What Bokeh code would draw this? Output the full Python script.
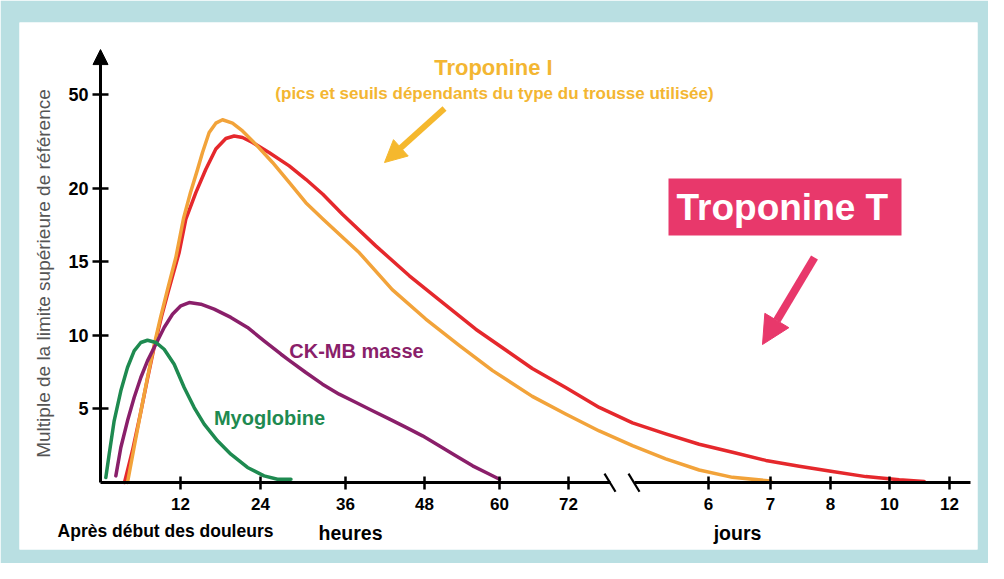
import numpy as np
from bokeh.plotting import figure
from bokeh.models import Range1d, FixedTicker, Label, Arrow, NormalHead, BoxAnnotation
from bokeh.embed import file_html
from bokeh.resources import INLINE

# ---------------- data (hours after onset of pain, multiple of upper reference limit)
MYO_H = [0.8, 1.3, 2.05, 3.05, 4.05, 5.05, 6.05, 7.05, 8.3, 9.55, 11.05, 12.55, 14.05,
         15.55, 17.55, 19.55, 22.05, 24.5, 26.4, 28.3]
MYO_V = [0.34, 1.92, 4.19, 6.23, 7.81, 8.94, 9.51, 9.66, 9.51, 9.05, 8.03, 6.45, 5.09,
         3.96, 2.83, 1.92, 1.02, 0.45, 0.22, 0.22]

CKMB_H = [2.3, 3.05, 4.05, 5.05, 6.05, 7.05, 8.3, 9.55, 10.8, 12.05, 13.3, 15.05, 17.05,
          19.55, 22.05, 24.5, 26.9, 28.05, 30.4, 32.75, 35.1, 37.6, 40.1, 42.7, 45.2,
          47.7, 50.35, 53.0, 55.7, 58.4, 60.0]
CKMB_V = [0.45, 2.38, 4.19, 5.77, 7.13, 8.26, 9.39, 10.53, 11.43, 12.0, 12.22, 12.11,
          11.77, 11.21, 10.53, 9.62, 8.71, 8.3, 7.47, 6.68, 6.0, 5.43, 4.87, 4.3, 3.74,
          3.17, 2.49, 1.81, 1.13, 0.56, 0.22]

TNI_H = [4.05, 4.95, 6.0, 7.05, 8.1, 9.0, 10.05, 11.3, 12.45, 13.5, 14.55, 15.3, 16.3,
         17.3, 18.3, 19.8, 21.3, 23.3, 25.7, 28.05, 30.4, 32.8, 38.1, 43.1, 48.2, 53.6,
         58.9, 65.7, 71.5, 87.8, 104.9, 122.0, 139.2, 153.3, 168.1]
TNI_V = [0.0, 2.17, 4.69, 7.13, 9.44, 11.2, 13.1, 15.28, 17.93, 19.69, 25.9, 31.4, 37.8,
         40.8, 41.9, 40.8, 38.3, 34.0, 28.2, 21.8, 19.0, 17.9, 15.6, 13.1, 11.1, 9.3,
         7.6, 5.85, 4.65, 3.5, 2.5, 1.6, 0.85, 0.35, 0.1]

TNT_H = [3.6, 4.8, 6.0, 7.05, 8.1, 9.15, 10.2, 11.8, 12.8, 14.3, 15.8, 17.3, 18.8, 20.05,
         21.3, 22.8, 25.2, 28.05, 30.4, 32.8, 35.6, 40.6, 45.7, 50.9, 56.2, 61.7, 65.7,
         71.5, 87.8, 104.9, 122.0, 139.2, 153.3, 166.2, 179.5, 193.6, 220.7, 247.8, 267.8]
TNT_V = [0.0, 2.17, 4.69, 7.06, 9.3, 11.27, 13.04, 15.62, 17.88, 19.69, 26.0, 32.5, 35.9,
         36.7, 36.2, 34.6, 31.4, 27.1, 22.8, 19.58, 18.2, 16.07, 14.04, 12.22, 10.41,
         8.83, 7.74, 6.45, 5.1, 4.05, 3.3, 2.6, 2.05, 1.5, 1.1, 0.75, 0.4, 0.18, 0.07]

HOUR_TICKS = [12, 24, 36, 48, 60, 72]
DAY_TICKS = [6, 7, 8, 10, 12]
Y_TICKS = [5, 10, 15, 20, 50]

# ---------------- broken / non-linear axis scales
X_ANCHOR_H = [0, 12, 24, 36, 48, 60, 72, 144, 168, 192, 240, 288]
X_ANCHOR_POS = [0, 80, 160, 245, 324, 399, 468, 608, 670, 730, 789, 849]
Y_ANCHOR_V = [0, 20, 50]
Y_ANCHOR_POS = [0, 20, 26.35]


def xpos(h):
    return np.interp(np.asarray(h, dtype=float), X_ANCHOR_H, X_ANCHOR_POS)


def ypos(v):
    return np.interp(np.asarray(v, dtype=float), Y_ANCHOR_V, Y_ANCHOR_POS)


FONT = "Liberation Sans"
C_TNI = "#f2a33a"
C_TNI_TXT = "#f3b632"
C_TNT = "#e5282c"
C_TNT_BOX = "#e8386b"
C_CKMB = "#8a1f6a"
C_MYO = "#1e8a50"
C_FRAME = "#b9dfe2"

p = figure(width=988, height=563, output_backend="svg", toolbar_location=None,
           x_range=Range1d(-81, 877), y_range=Range1d(-4.55, 31.24),
           min_border_left=19, min_border_right=11, min_border_top=22,
           min_border_bottom=14, background_fill_color="white",
           border_fill_color=C_FRAME, outline_line_color=None)
p.grid.visible = False

# ---------------- axes
x_tick_pos = [float(v) for v in xpos(HOUR_TICKS + [d * 24 for d in DAY_TICKS])]
x_tick_lbl = [str(v) for v in HOUR_TICKS + DAY_TICKS]
xa = p.xaxis[0]
xa.fixed_location = 0
xa.bounds = (0, 870)
xa.ticker = FixedTicker(ticks=x_tick_pos)
xa.major_label_overrides = {k: s for k, s in zip(x_tick_pos, x_tick_lbl)}
xa.axis_line_width = 3
xa.axis_line_color = "black"
xa.major_tick_in = 6
xa.major_tick_out = 7
xa.major_tick_line_width = 2.5
xa.major_tick_line_color = "black"
xa.minor_tick_line_color = None
xa.major_label_text_font = FONT
xa.major_label_text_font_style = "bold"
xa.major_label_text_font_size = "17px"
xa.major_label_text_color = "black"
xa.major_label_standoff = 8

y_tick_pos = [float(v) for v in ypos(Y_TICKS)]
ya = p.yaxis[0]
ya.fixed_location = 0
ya.bounds = (0, 28.4)
ya.ticker = FixedTicker(ticks=y_tick_pos)
ya.major_label_overrides = {k: str(s) for k, s in zip(y_tick_pos, Y_TICKS)}
ya.axis_line_width = 3
ya.axis_line_color = "black"
ya.major_tick_in = 8
ya.major_tick_out = 8
ya.major_tick_line_width = 2.5
ya.major_tick_line_color = "black"
ya.minor_tick_line_color = None
ya.major_label_text_font = FONT
ya.major_label_text_font_style = "bold"
ya.major_label_text_font_size = "18px"
ya.major_label_text_color = "black"
ya.major_label_standoff = 4
ya.axis_label = "Multiple de la limite supérieure de référence"
ya.axis_label_text_font = FONT
ya.axis_label_text_font_style = "normal"
ya.axis_label_text_font_size = "19px"
ya.axis_label_text_color = "#555555"
ya.axis_label_standoff = 11

# arrow head on the y axis
p.add_layout(Arrow(end=NormalHead(size=15, fill_color="black", line_color="black"),
                   x_start=0, y_start=27.5, x_end=0, y_end=29.4,
                   line_width=3, line_color="black"))

# axis break
BREAK_L, BREAK_R = 510, 534
p.add_layout(BoxAnnotation(left=BREAK_L, right=BREAK_R, bottom=-0.3, top=0.3,
                           fill_color="white", fill_alpha=1.0, line_color=None))
for x0 in (BREAK_L - 6, BREAK_R - 6):
    p.add_layout(Arrow(end=None, x_start=x0, y_start=0.6, x_end=x0 + 11, y_end=-0.63,
                       line_width=2.2, line_color="black"))

# ---------------- curves
for hh, vv, col in ((TNT_H, TNT_V, C_TNT), (TNI_H, TNI_V, C_TNI),
                    (CKMB_H, CKMB_V, C_CKMB), (MYO_H, MYO_V, C_MYO)):
    p.line(xpos(hh), ypos(vv), line_width=3.5, line_color=col, line_join="round",
           line_cap="round")


def lab(x, y, text, size, color, style="bold"):
    p.add_layout(Label(x=x, y=y, text=text, text_align="center", text_baseline="middle",
                       text_font=FONT, text_font_style=style, text_font_size=size,
                       text_color=color))


# ---------------- texts and annotations
lab(65, -3.26, "Après début des douleurs", "17.5px", "black")
lab(250, -3.46, "heures", "19.5px", "black")
lab(637, -3.46, "jours", "19.5px", "black")

lab(396, 28.2, "Troponine  I", "22px", C_TNI_TXT)
lab(394, 26.4, "(pics et seuils dépendants du type du trousse utilisée)", "17px", C_TNI_TXT)
p.add_layout(Arrow(end=NormalHead(size=22, fill_color="#f5b82e", line_color="#f5b82e"),
                   x_start=344, y_start=25.4, x_end=284, y_end=21.73,
                   line_width=6, line_color="#f5b82e"))

p.add_layout(BoxAnnotation(left=568, right=801, bottom=16.77, top=20.65,
                           fill_color=C_TNT_BOX, fill_alpha=1.0, line_color=None))
lab(687, 18.68, "Troponine  T", "37px", "white")
p.add_layout(Arrow(end=NormalHead(size=28, fill_color=C_TNT_BOX, line_color=C_TNT_BOX),
                   x_start=714, y_start=15.28, x_end=662, y_end=9.37,
                   line_width=8, line_color=C_TNT_BOX))

lab(256, 8.96, "CK-MB masse", "20px", C_CKMB)
lab(169, 4.41, "Myoglobine", "20px", C_MYO)

open("out.html", "w").write(file_html(p, INLINE))
